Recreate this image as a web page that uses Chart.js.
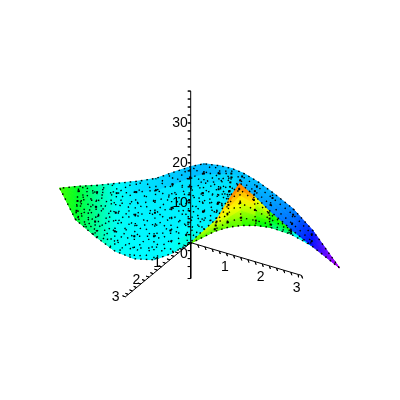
<!DOCTYPE html>
<html>
<head>
<meta charset="utf-8">
<style>
html, body { margin: 0; padding: 0; background: #fff; }
canvas { display: block; }
</style>
<script src="https://cdn.jsdelivr.net/npm/chart.js@4/dist/chart.umd.min.js"></script>
</head>
<body>
<canvas id="chartCanvas" width="400" height="400"></canvas>
<script>
// big sheet, rows run top edge -> lower edge
const sheetX = [
    [57, 76, 95, 115, 135, 155, 172, 190, 204, 220, 233, 245, 260, 275, 295, 315, 342],
    [57, 76, 95, 115, 135, 155, 172, 190, 204, 220, 232, 244, 259, 274, 295, 315, 342],
    [57, 75, 94, 114, 134, 154, 171, 189, 204, 219, 232, 243, 258, 274, 295, 314, 342],
    [57, 75, 94, 114, 134, 154, 171, 189, 203, 219, 231, 243, 258, 273, 294, 314, 342],
    [57, 74, 94, 114, 134, 154, 171, 188, 203, 218, 231, 242, 257, 272, 294, 314, 342],
    [57, 74, 93, 113, 133, 153, 170, 188, 203, 218, 230, 241, 256, 272, 294, 314, 342],
    [57, 73, 93, 113, 133, 153, 170, 187, 202, 217, 230, 241, 256, 271, 293, 313, 342],
    [57, 73, 93, 113, 133, 153, 170, 187, 202, 216, 228, 240, 255, 270, 293, 313, 342]
];
const sheetY = [
    [188, 186, 185, 183, 181, 178, 172, 166, 163, 165, 168, 173, 182, 193, 209, 231, 269],
    [188, 191, 192, 193, 192, 190, 184, 177, 173, 173, 173, 175, 184, 195, 212, 233, 269],
    [188, 196, 200, 203, 204, 201, 196, 189, 183, 181, 177, 176, 186, 198, 215, 235, 269],
    [188, 201, 207, 213, 215, 213, 208, 200, 193, 189, 182, 177, 188, 200, 218, 237, 269],
    [188, 206, 215, 222, 226, 225, 219, 212, 202, 196, 186, 179, 189, 203, 221, 240, 269],
    [188, 211, 222, 232, 237, 237, 231, 223, 212, 204, 191, 180, 191, 205, 224, 242, 269],
    [188, 216, 230, 242, 249, 249, 243, 235, 222, 212, 195, 181, 193, 208, 227, 244, 269],
    [188, 220, 237, 252, 260, 261, 255, 246, 232, 220, 200, 182, 195, 210, 230, 246, 269]
];
const sheetHue = [
    [105, 132, 157, 180, 188, 192, 198, 200, 200, 198, 196, 194, 196, 199, 208, 232, 285],
    [105, 131, 156, 178, 185, 185, 186, 190, 192, 192, 192, 194, 197, 200, 210, 233, 285],
    [105, 130, 155, 177, 183, 184, 184, 184, 186, 186, 188, 195, 198, 201, 212, 234, 285],
    [105, 130, 155, 177, 182, 183, 183, 183, 184, 185, 186, 195, 198, 202, 213, 235, 285],
    [105, 130, 155, 177, 182, 183, 183, 183, 184, 184, 185, 196, 199, 203, 214, 236, 285],
    [105, 130, 155, 177, 181, 182, 183, 182, 184, 184, 185, 196, 199, 204, 215, 237, 285],
    [105, 130, 155, 177, 181, 182, 181, 178, 184, 184, 185, 197, 200, 205, 217, 238, 285],
    [105, 130, 155, 177, 180, 181, 178, 165, 180, 184, 185, 198, 200, 206, 218, 238, 285]
];

// fold behind the sheet, rows run lower arch -> peak
const foldX = [
    [187, 201, 215, 228, 242, 257, 272, 293, 313],
    [187, 201, 215, 228, 242, 257, 272, 293, 313],
    [187, 201, 216, 228, 241, 256, 271, 293, 313],
    [187, 201, 216, 228, 241, 256, 271, 293, 313],
    [187, 201, 216, 229, 241, 256, 271, 293, 313],
    [187, 202, 217, 229, 240, 255, 270, 293, 313],
    [187, 202, 216, 228, 240, 255, 270, 293, 313]
];
const foldY = [
    [246, 239, 232, 228, 226, 226, 228, 235, 246],
    [246, 238, 230, 223, 218, 221, 225, 234, 246],
    [246, 237, 228, 219, 211, 216, 222, 233, 246],
    [246, 236, 226, 214, 203, 210, 219, 232, 246],
    [246, 234, 224, 209, 196, 205, 216, 232, 246],
    [246, 233, 222, 205, 189, 200, 213, 231, 246],
    [246, 232, 220, 200, 182, 195, 210, 230, 246]
];
const foldHue = [
    [100, 100, 100, 95, 105, 115, 135, 170, 190],
    [100, 95, 92, 85, 92, 105, 125, 165, 190],
    [100, 90, 85, 72, 76, 90, 115, 155, 190],
    [100, 88, 75, 62, 60, 76, 106, 148, 190],
    [100, 85, 70, 55, 50, 60, 96, 140, 190],
    [100, 82, 65, 45, 36, 50, 88, 135, 190],
    [100, 80, 60, 38, 18, 38, 84, 130, 190]
];

// axes
const zAxisTicks = [-9, -6, -4, -2, 0, 2, 4, 6, 8, 10, 12, 14, 16, 18, 20, 22, 24, 26, 28, 30, 32, 34, 36, 38];
const xAxisTicks = [0.2, 0.4, 0.6, 0.8, 1, 1.2, 1.4, 1.6, 1.8, 2, 2.2, 2.4, 2.6, 2.8, 3, 3.1];
const yAxisTicks = [0.2, 0.4, 0.6, 0.8, 1, 1.2, 1.4, 1.6, 1.8, 2, 2.2, 2.4, 2.6, 2.8, 3, 3.14];
const zTickLabels = ['0', '10', '20', '30'];
const xTickLabels = ['1', '2', '3'];
const yTickLabels = ['1', '2', '3'];

const origin = { x: 190.5, y: 243.5 };
const xUnit = { x: 36.5, y: 10.8 };
const yUnit = { x: -21.2, y: 17.6 };
const zUnit = -4.07;

function hsl(h) {
    return 'hsl(' + h + ',100%,50%)';
}

// one filled cell per mesh square; horizontal=true shades left to right, else top to bottom
function cellDatasets(gridX, gridY, gridHue, horizontal) {
    const out = [];
    for (let r = 0; r < gridX.length - 1; r++) {
        for (let c = 0; c < gridX[r].length - 1; c++) {
            const h = [gridHue[r][c], gridHue[r][c + 1], gridHue[r + 1][c + 1], gridHue[r + 1][c]];
            const pts = [[r, c], [r, c + 1], [r + 1, c + 1], [r + 1, c], [r, c]]
                .map(p => ({ x: gridX[p[0]][p[1]], y: gridY[p[0]][p[1]] }));
            const shade = function(context) {
                const chart = context.chart;
                const flat = hsl((h[0] + h[1] + h[2] + h[3]) / 4);
                if (!chart.scales.x || !chart.scales.y) return flat;
                const xs = pts.map(p => chart.scales.x.getPixelForValue(p.x));
                const ys = pts.map(p => chart.scales.y.getPixelForValue(p.y));
                if (!xs.concat(ys).every(Number.isFinite)) return flat; // scales not laid out yet
                const g = horizontal
                    ? chart.ctx.createLinearGradient(Math.min(...xs), 0, Math.max(...xs), 0)
                    : chart.ctx.createLinearGradient(0, Math.max(...ys), 0, Math.min(...ys));
                g.addColorStop(0, hsl(horizontal ? (h[0] + h[3]) / 2 : (h[0] + h[1]) / 2));
                g.addColorStop(1, hsl(horizontal ? (h[1] + h[2]) / 2 : (h[2] + h[3]) / 2));
                return g;
            };
            out.push({
                data: pts,
                showLine: true,
                fill: 'shape',
                backgroundColor: shade,
                borderColor: shade,
                borderWidth: 1,
                pointRadius: 0
            });
        }
    }
    return out;
}

let speckCount = 0;

function specks(points, vertexDots, gap) {
    speckCount++;
    return {
        data: points,
        showLine: true,
        borderColor: '#000',
        borderWidth: 1.4,
        borderDash: [1.4, gap || 6.5],
        borderDashOffset: (speckCount * 2.7) % 8, // keeps the dots of neighbouring lines from lining up
        pointRadius: vertexDots ? 1.4 : 0,
        pointStyle: 'rect',
        pointBackgroundColor: '#000',
        pointBorderWidth: 0
    };
}

function pick(gridX, gridY, cells) {
    return cells.map(p => ({ x: gridX[p[0]][p[1]], y: gridY[p[0]][p[1]] }));
}

// black specks follow the mesh: rows, columns and both diagonals over the open part of the sheet
function sheetSpecks() {
    const rows = sheetX.length;
    const out = [];
    for (let r = 1; r < rows - 1; r++) {
        const cells = [];
        for (let c = 1; c <= 10; c++) cells.push([r, c]);
        out.push(specks(pick(sheetX, sheetY, cells), r % 2 === 1));
    }
    // the band on the right gets only two rows, the others run too close together
    [2, 5].forEach(r => {
        const cells = [];
        for (let c = 10; c <= 15; c++) cells.push([r, c]);
        out.push(specks(pick(sheetX, sheetY, cells), true, 5));
    });
    for (let c = 1; c <= 15; c++) {
        const cells = [];
        for (let r = 0; r < rows; r++) cells.push([r, c]);
        out.push(specks(pick(sheetX, sheetY, cells), false));
    }
    for (let s = -6; s <= 8; s++) {
        const down = [], up = [];
        for (let r = 0; r < rows; r++) {
            if (s + r >= 1 && s + r <= 10) down.push([r, s + r]);
            const c = s + 7 - r;
            if (c >= 1 && c <= 10) up.push([r, c]);
        }
        if (down.length > 1) out.push(specks(pick(sheetX, sheetY, down), false, 9));
        if (up.length > 1) out.push(specks(pick(sheetX, sheetY, up), false, 9));
    }
    return out;
}

function foldSpecks() {
    const out = [];
    [1, 3, 5].forEach(r => {
        const cells = [];
        for (let c = 2; c <= 7; c++) cells.push([r, c]);
        out.push(specks(pick(foldX, foldY, cells), true, 5));
    });
    for (let c = 2; c <= 6; c++) {
        const cells = [];
        for (let r = 0; r < foldX.length; r++) cells.push([r, c]);
        out.push(specks(pick(foldX, foldY, cells), false, 5));
    }
    return out;
}

function edgeDots(gridX, gridY, r) {
    const ds = specks(gridX[r].map((v, c) => ({ x: v, y: gridY[r][c] })), false);
    ds.borderDash = [1.6, 4];
    return ds;
}

function axisDataset(points) {
    return { data: points, showLine: true, borderColor: '#000', borderWidth: 1, pointRadius: 0 };
}

function zPoint(v) { return { x: origin.x, y: origin.y + v * zUnit }; }
function xPoint(v) { return { x: origin.x + v * xUnit.x, y: origin.y + v * xUnit.y }; }
function yPoint(v) { return { x: origin.x + v * yUnit.x, y: origin.y + v * yUnit.y }; }

// axis line as a comb: walk along it, step out to each tick and back
function comb(ticks, at, dx, dy) {
    const pts = [at(0)];
    ticks.forEach(t => {
        const p = at(t);
        pts.push(p, { x: p.x + dx, y: p.y + dy }, p);
    });
    return pts;
}

const labelPlugin = {
    id: 'axisLabels',
    afterDatasetsDraw(chart) {
        const ctx = chart.ctx;
        const sx = chart.scales.x, sy = chart.scales.y;
        ctx.save();
        ctx.fillStyle = '#000';
        ctx.font = '14px "Liberation Sans"';
        ctx.textBaseline = 'middle';
        ctx.textAlign = 'right';
        zTickLabels.forEach(t => {
            const v = parseFloat(t);
            const p = zPoint(v);
            // the 0 sits below the crossing of the axes
            const py = v === 0 ? p.y + 12 : p.y;
            ctx.fillText(t, sx.getPixelForValue(p.x - 3), sy.getPixelForValue(py));
        });
        ctx.textAlign = 'center';
        xTickLabels.forEach(t => {
            const p = xPoint(parseFloat(t));
            ctx.fillText(t, sx.getPixelForValue(p.x - 1.5), sy.getPixelForValue(p.y + 14));
        });
        yTickLabels.forEach(t => {
            const p = yPoint(parseFloat(t));
            ctx.fillText(t, sx.getPixelForValue(p.x - 13), sy.getPixelForValue(p.y + 3));
        });
        ctx.restore();
    }
};

// scatter draws the last dataset first, so front-most things go first here
const datasets = [
    axisDataset(comb(zAxisTicks, zPoint, -3, 0)),
    axisDataset(comb(xAxisTicks, xPoint, 1, 3)),
    axisDataset(comb(yAxisTicks, yPoint, -3, -1)),
    edgeDots(sheetX, sheetY, 0),
    edgeDots(sheetX, sheetY, 7),
    ...sheetSpecks(),
    ...cellDatasets(sheetX, sheetY, sheetHue, true),
    edgeDots(foldX, foldY, 0),
    ...foldSpecks(),
    ...cellDatasets(foldX, foldY, foldHue, false)
];

const chartInstance = new Chart(document.getElementById('chartCanvas').getContext('2d'), {
    type: 'scatter',
    data: { datasets: datasets },
    plugins: [labelPlugin],
    options: {
        responsive: false,
        animation: false,
        events: [],
        layout: { padding: 0 },
        plugins: { legend: { display: false }, tooltip: { enabled: false } },
        scales: {
            x: { type: 'linear', display: false, min: 0, max: 400 },
            y: { type: 'linear', display: false, min: 0, max: 400, reverse: true }
        }
    }
});
</script>
</body>
</html>
